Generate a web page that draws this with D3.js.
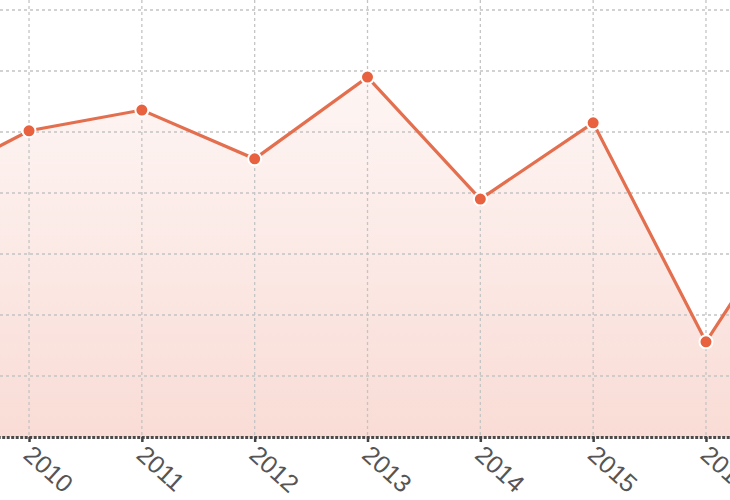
<!DOCTYPE html>
<html>
<head>
<meta charset="utf-8">
<script src="https://cdn.jsdelivr.net/npm/d3@7"></script>
<style>
html,body{margin:0;padding:0;background:#fff;overflow:hidden;}
svg{display:block;}
</style>
</head>
<body>
<svg id="chart" width="730" height="500"></svg>
<script>
const years = [2009, 2010, 2011, 2012, 2013, 2014, 2015, 2016, 2017];
const values = [40.6, 50.2, 53.6, 45.6, 59.0, 39.0, 51.5, 15.6, 44.0];
const yTicks = [0, 10, 20, 30, 40, 50, 60, 70, 80];

const svg = d3.select("#chart");
const x = d3.scaleLinear().domain([2009, 2017]).range([-83.8, 818.8]);
const y = d3.scaleLinear().domain([0, 80]).range([437, -51]);

const defs = svg.append("defs");
const grad = defs.append("linearGradient")
  .attr("id", "areaGrad").attr("gradientUnits", "userSpaceOnUse")
  .attr("x1", 0).attr("x2", 0).attr("y1", y(80)).attr("y2", y(0));
grad.append("stop").attr("offset", "0%").attr("stop-color", "#e8735a").attr("stop-opacity", 0.0);
grad.append("stop").attr("offset", "100%").attr("stop-color", "#e8735a").attr("stop-opacity", 0.25);

const data = years.map((yr, i) => ({yr, v: values[i]}));

// area
svg.append("path").datum(data)
  .attr("fill", "url(#areaGrad)")
  .attr("d", d3.area().x(d => x(d.yr)).y0(y(0)).y1(d => y(d.v)));

// grid
const grid = svg.append("g").attr("stroke", "#c4c4c4").attr("stroke-width", 1.3).attr("stroke-dasharray", "3,3");
grid.selectAll("line.h").data(yTicks.slice(1)).join("line")
  .attr("x1", 0).attr("x2", 730).attr("y1", d => y(d)).attr("y2", d => y(d));
grid.selectAll("line.v").data(years).join("line")
  .attr("x1", d => x(d)).attr("x2", d => x(d)).attr("y1", -60).attr("y2", y(0));

// x axis
const xAxis = d3.axisBottom(x).tickValues(years).tickFormat(d3.format("d")).tickSize(5).tickPadding(8);
const gx = svg.append("g").attr("transform", `translate(0,${y(0)})`).call(xAxis);
gx.select(".domain").attr("stroke", "#4a4a4a").attr("stroke-width", 3).attr("stroke-dasharray", "3,1.5");
gx.selectAll(".tick line").attr("stroke", "#444").attr("stroke-width", 2.5);
gx.selectAll(".tick text")
  .attr("fill", "#555")
  .style("font-family", "'Liberation Sans', Arial, sans-serif")
  .style("font-size", "25px")
  .attr("text-anchor", "start")
  .attr("dominant-baseline", "middle")
  .attr("dy", null)
  .attr("y", 0)
  .attr("transform", "translate(-3,15) rotate(42)");

// line
svg.append("path").datum(data)
  .attr("fill", "none").attr("stroke", "#e36f4f").attr("stroke-width", 3.2)
  .attr("d", d3.line().x(d => x(d.yr)).y(d => y(d.v)));

// points
svg.selectAll("circle.pt").data(data).join("circle")
  .attr("class", "pt")
  .attr("cx", d => x(d.yr)).attr("cy", d => y(d.v)).attr("r", 6.5)
  .attr("fill", "#e8623f").attr("stroke", "#fff").attr("stroke-width", 2);
</script>
</body>
</html>
